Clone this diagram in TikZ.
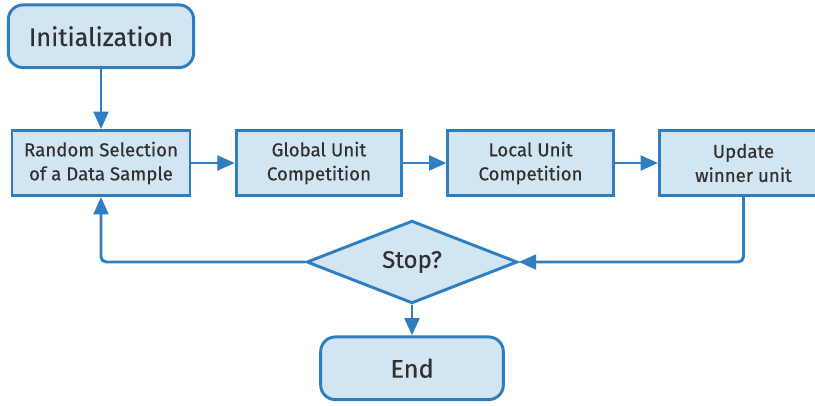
\documentclass[tikz,border=0pt]{standalone}
\usepackage{fontspec}
\setmainfont{Fira Sans}[FakeBold=0.4, BoldFont=Fira Sans]
\usetikzlibrary{positioning, shapes.geometric, arrows.meta}
\definecolor{flowline}{HTML}{2E7EC0}
\definecolor{flowfill}{HTML}{D2E5F3}
\definecolor{flowtext}{HTML}{303030}
\tikzset{
>={Triangle[length=13pt,width=11pt]}, % filled arrow heads
node distance=32.5pt, % gap between the boxes in the row
every node/.style={text=flowtext, font=\bfseries\fontsize{14}{18}\selectfont, align=center},
process/.style={draw=flowline, fill=flowfill, line width=2.2pt, minimum height=48.75pt, inner sep=2pt}, % square boxes
terminal/.style={draw=flowline, fill=flowfill, line width=2.2pt, rounded corners=11pt, minimum height=47pt, font=\bfseries\fontsize{19}{21}\selectfont}, % start and end
decision/.style={diamond, draw=flowline, fill=flowfill, line width=2.2pt, aspect=2.5, inner sep=0pt, minimum width=158pt, minimum height=62pt, font=\bfseries\fontsize{18}{20}\selectfont},
flow/.style={->, draw=flowline, line width=2.2pt}, % sets the properties for each connector
}

\begin{document}
\begin{tikzpicture}
    \useasboundingbox (0,0) rectangle (611.25pt,-303.75pt);
    \node[process, minimum width=133.5pt] (select) at (75.75pt,-122.25pt) {Random Selection\\of a Data Sample};
    \node[process, minimum width=124pt, right=of select] (global) {Global Unit\\Competition};
    \node[process, minimum width=124pt, right=of global] (local) {Local Unit\\Competition};
    \node[process, minimum width=126pt, right=of local] (update) {Update\\winner unit};
    \node[terminal, minimum width=139pt, above=45pt of select] (init) {Initialization};
    \node[decision] (stop) at (309pt,-196.5pt) {Stop?};
    \node[terminal, minimum width=137pt, below=23pt of stop] (end) {End};
    \draw[flow] (init) -- (select);
    \draw[flow] (select) -- (global);
    \draw[flow] (global) -- (local);
    \draw[flow] (local) -- (update);
    \draw[flow, rounded corners=4pt] (update.south) |- (stop.east);
    \draw[flow, rounded corners=4pt] (stop.west) -| (select.south);
    \draw[flow] (stop) -- (end);
  \end{tikzpicture}
\end{document}
